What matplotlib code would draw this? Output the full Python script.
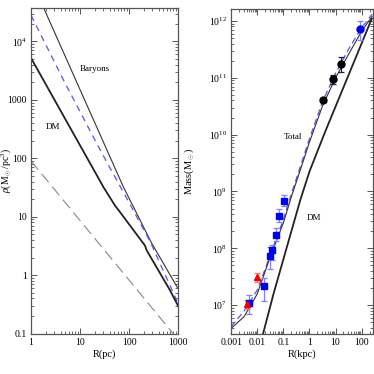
import numpy as np
import matplotlib
matplotlib.use("Agg")
import matplotlib.pyplot as plt
from matplotlib.ticker import LogLocator, FixedLocator, FixedFormatter, NullFormatter

plt.rcParams['font.family'] = ['Liberation Serif', 'DejaVu Serif']
plt.rcParams['mathtext.fontset'] = 'custom'
plt.rcParams['mathtext.rm'] = 'Liberation Serif'
plt.rcParams['mathtext.it'] = 'Liberation Serif:italic'
plt.rcParams['mathtext.bf'] = 'Liberation Serif:bold'

# ---------------- Left panel: density profiles ----------------
R_bar = [1.84, 76.6, 290, 1000]
rho_bar = [3.63e4, 32.4, 3.52, 0.59]

R_tot_rho = [1, 4.57, 25.6, 100, 269, 1000]
rho_tot = [2.8e4, 2.2e3, 140, 17.5, 3.78, 0.33]

R_dm_rho = [1, 29.9, 51.8, 65.5, 212, 229, 687, 1000]
rho_dm = [5.2e3, 32.4, 15.5, 12.0, 3.2, 2.67, 0.55, 0.30]

R_bar2 = [1, 794]
rho_bar2 = [90, 0.1]

# ---------------- Right panel: mass profiles ----------------
R_m = [0.001, 0.00316, 0.01, 0.0316, 0.1, 0.2, 0.5, 1, 3.16, 10, 31.6, 100, 251]
M_total = [3.9e6, 6.3e6, 1.58e7, 7.1e7, 2.8e8, 7.9e8, 2.8e9, 7.4e9, 3.2e10, 1.0e11, 2.6e11, 6.6e11, 1.2e12]
M_model = [4.2e6, 7.9e6, 1.85e7, 7.6e7, 3.2e8, 8.9e8, 3.2e9, 8.5e9, 3.8e10, 1.2e11, 3.2e11, 7.6e11, 1.32e12]
R_dm_m = [0.0168, 0.042, 0.136, 0.447, 1.0, 3.98, 46.8, 245]
M_dm = [3.16e6, 1.58e7, 1.05e8, 7.1e8, 2.24e9, 1.12e10, 1.74e11, 1.1e12]

# data points: values with lower / upper error limits
sq_R = [0.0049, 0.0179, 0.0304, 0.037, 0.0516, 0.0655, 0.102]
sq_M = [1.1e7, 2.16e7, 7.4e7, 9.3e7, 1.7e8, 3.66e8, 6.8e8]
sq_lo = [7.1e6, 1.17e7, 4.4e7, 6.2e7, 1.35e8, 2.9e8, 5.5e8]
sq_hi = [1.5e7, 3.0e7, 1.05e8, 1.16e8, 2.3e8, 5.0e8, 8.5e8]

tri_R = [0.0041, 0.0097]
tri_M = [1.05e7, 3.1e7]
tri_lo = [8.7e6, 2.6e7]
tri_hi = [1.23e7, 3.7e7]

circ_R = [3.26, 7.9, 16]
circ_M = [4.05e10, 9.5e10, 1.74e11]
circ_lo = [3.7e10, 7.9e10, 1.27e11]
circ_hi = [4.4e10, 1.12e11, 2.3e11]

bc_R = [88]
bc_M = [7.1e11]
bc_lo = [4.6e11]
bc_hi = [1.0e12]

fig = plt.figure(figsize=(3.74, 3.74), dpi=100)
axL = fig.add_axes([0.083, 0.108, 0.393, 0.870])
axR = fig.add_axes([0.618, 0.108, 0.378, 0.867])

frame_col = '#555555'
for ax in (axL, axR):
    ax.set_xscale('log')
    ax.set_yscale('log')
    for s in ax.spines.values():
        s.set_color(frame_col)
        s.set_linewidth(0.9)
    ax.tick_params(which='both', direction='in', top=True, right=True,
                   color=frame_col, labelsize=7, pad=3)
    ax.tick_params(which='major', length=4, width=0.7)
    ax.tick_params(which='minor', length=2, width=0.6)
    ax.xaxis.set_minor_locator(LogLocator(base=10, subs=np.arange(2, 10), numticks=20))
    ax.yaxis.set_minor_locator(LogLocator(base=10, subs=np.arange(2, 10), numticks=20))
    ax.xaxis.set_minor_formatter(NullFormatter())
    ax.yaxis.set_minor_formatter(NullFormatter())

# Left
axL.plot(R_bar, rho_bar, color='#333333', lw=0.8)
axL.plot(R_tot_rho, rho_tot, color='#5555ee', lw=0.9, ls=(0, (5, 4)))
axL.plot(R_dm_rho, rho_dm, color='#222222', lw=1.3)
axL.plot(R_bar2, rho_bar2, color='#888888', lw=0.8, ls=(0, (10, 5)))
axL.set_xlim(1, 1000)
axL.set_ylim(0.1, 3.7e4)
axL.xaxis.set_major_locator(FixedLocator([1, 10, 100, 1000]))
axL.xaxis.set_major_formatter(FixedFormatter(['1', '10', '100', '1000']))
axL.yaxis.set_major_locator(FixedLocator([0.1, 1, 10, 100, 1000, 1e4]))
axL.yaxis.set_major_formatter(FixedFormatter(['0.1', '1', '10', '100', '1000', r'10$^4$']))
axL.set_xlabel('R(pc)', fontsize=7.5, labelpad=2)
axL.set_ylabel(r'$\rho$(M$_\odot$/pc$^3$)', fontsize=7)
axL.yaxis.set_label_coords(-0.12, 0.5)
axL.text(10, 3.4e3, 'Baryons', fontsize=6.5, va='center')
axL.text(2.0, 3.4e2, 'DM', fontsize=6.5, va='center')

# Right
axR.plot(R_m, M_model, color='#5555ee', lw=0.9, ls=(0, (5, 3)))
axR.plot(R_m, M_total, color='#333333', lw=0.8)
axR.plot(R_dm_m, M_dm, color='#222222', lw=1.3)

def eb(ax, x, y, lo, hi, fmt, mc, ec, ms):
    y = np.array(y)
    yerr = [y - np.array(lo), np.array(hi) - y]
    ax.errorbar(x, y, yerr=yerr, fmt=fmt, color=mc, ecolor=ec, ms=ms,
                elinewidth=0.9, capsize=2.5, capthick=0.9, mec=mc, zorder=5)

eb(axR, sq_R, sq_M, sq_lo, sq_hi, 's', '#0000ee', '#8080ff', 4)
eb(axR, tri_R, tri_M, tri_lo, tri_hi, '^', '#ee0000', '#ff7070', 3.8)
eb(axR, circ_R, circ_M, circ_lo, circ_hi, 'o', '#000000', '#222222', 5)
eb(axR, bc_R, bc_M, bc_lo, bc_hi, 'o', '#0000ee', '#8080ff', 5)

axR.set_xlim(0.001, 260)
axR.set_ylim(3.16e6, 1.6e12)
axR.xaxis.set_major_locator(FixedLocator([0.001, 0.01, 0.1, 1, 10, 100]))
axR.xaxis.set_major_formatter(FixedFormatter(['0.001', '0.01', '0.1', '1', '10', '100']))
yt = [1e7, 1e8, 1e9, 1e10, 1e11, 1e12]
axR.yaxis.set_major_locator(FixedLocator(yt))
axR.yaxis.set_major_formatter(FixedFormatter([r'10$^{%d}$' % k for k in range(7, 13)]))
axR.set_xlabel('R(kpc)', fontsize=7.5, labelpad=2)
axR.set_ylabel(r'Mass(M$_\odot$)', fontsize=7.5)
axR.yaxis.set_label_coords(-0.25, 0.5)
axR.text(0.105, 9.1e9, 'Total', fontsize=6.5, va='center')
axR.text(0.79, 3.4e8, 'DM', fontsize=6.5, va='center')

fig.savefig('out.png', dpi=100)
